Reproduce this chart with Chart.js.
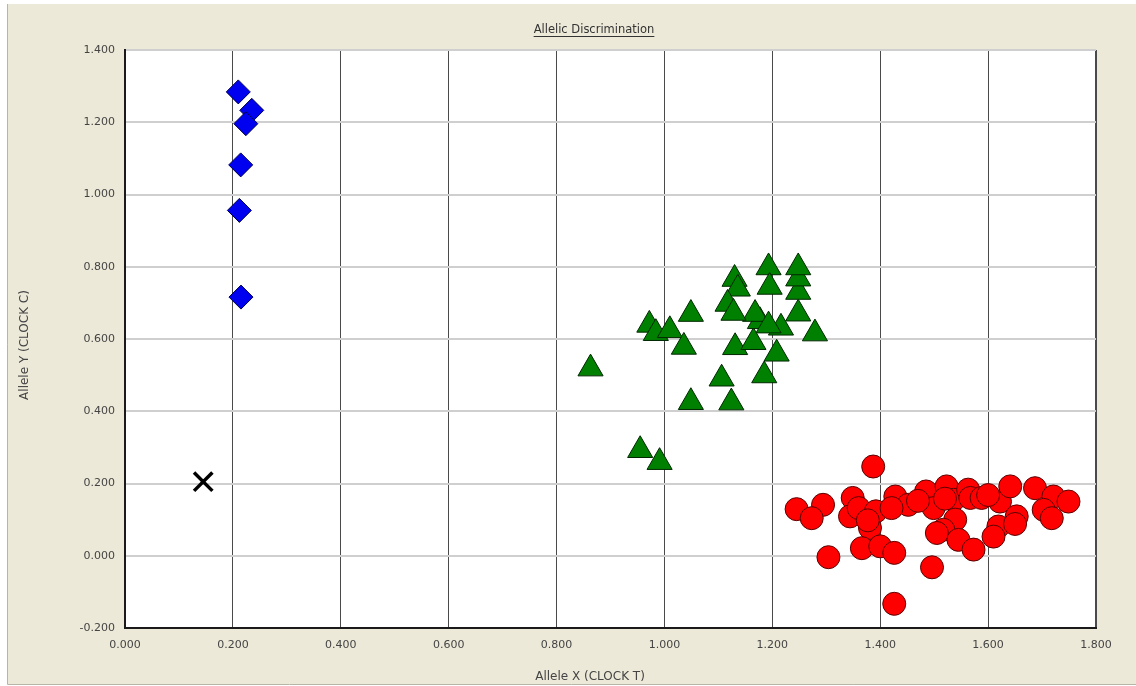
<!DOCTYPE html>
<html>
<head>
<meta charset="utf-8">
<script src="https://cdn.jsdelivr.net/npm/chart.js@4.4.1/dist/chart.umd.min.js"></script>
<style>
  html, body { margin: 0; padding: 0; background: #ffffff; }
  #wrap { width: 1136px; height: 686px; position: relative; }
</style>
</head>
<body>
<div id="wrap"><canvas id="c" width="1136" height="686"></canvas></div>
<script>
// Allelic discrimination plot: Allele X (CLOCK T) vs Allele Y (CLOCK C)

// Homozygous allele Y (CLOCK C/C)
const alleleY_x = [0.210, 0.235, 0.224, 0.2145, 0.212, 0.215];
const alleleY_y = [1.284, 1.233, 1.196, 1.082, 0.956, 0.716];

// Heterozygous (CLOCK T/C)
const hetero_x = [0.863, 0.955, 0.991, 0.972, 0.984, 1.010, 1.049, 1.036, 1.049, 1.106,
                  1.124, 1.131, 1.165, 1.185, 1.208, 1.216, 1.177, 1.168, 1.193, 1.279,
                  1.248, 1.248, 1.248, 1.248, 1.193, 1.195, 1.130, 1.136, 1.117, 1.128];
const hetero_y = [0.518, 0.292, 0.259, 0.639, 0.616, 0.624, 0.669, 0.578, 0.425, 0.490,
                  0.424, 0.577, 0.591, 0.499, 0.559, 0.631, 0.649, 0.669, 0.637, 0.615,
                  0.670, 0.730, 0.767, 0.798, 0.798, 0.744, 0.766, 0.739, 0.697, 0.672];

// Homozygous allele X (CLOCK T/T)
const alleleX_x = [1.245, 1.294, 1.273, 1.387, 1.349, 1.344, 1.360, 1.392, 1.381, 1.366,
                   1.400, 1.426, 1.304, 1.426, 1.496, 1.428, 1.452, 1.421, 1.485, 1.499,
                   1.523, 1.536, 1.563, 1.567, 1.539, 1.517, 1.505, 1.545, 1.573, 1.622,
                   1.641, 1.653, 1.619, 1.610, 1.687, 1.721, 1.749, 1.703, 1.718, 1.588,
                   1.470, 1.520, 1.600, 1.650, 1.377];
const alleleX_y = [0.129, 0.141, 0.104, 0.247, 0.160, 0.109, 0.132, 0.123, 0.077, 0.021,
                   0.026, 0.008, -0.004, -0.133, -0.032, 0.164, 0.141, 0.132, 0.178, 0.132,
                   0.192, 0.155, 0.183, 0.160, 0.100, 0.072, 0.063, 0.044, 0.017, 0.150,
                   0.192, 0.109, 0.081, 0.053, 0.187, 0.164, 0.150, 0.127, 0.104, 0.160,
                   0.152, 0.158, 0.168, 0.088, 0.098];

// No-template / undetermined
const undetermined_x = [0.145];
const undetermined_y = [0.205];

// Axis ticks
const xTicks = [0.0, 0.2, 0.4, 0.6, 0.8, 1.0, 1.2, 1.4, 1.6, 1.8];
const yTicks = [-0.2, 0.0, 0.2, 0.4, 0.6, 0.8, 1.0, 1.2, 1.4];

const chartTitle = 'Allelic Discrimination';
const xTitle = 'Allele X (CLOCK T)';
const yTitle = 'Allele Y (CLOCK C)';

const toPoints = (xs, ys) => xs.map((x, i) => ({ x: x, y: ys[i] }));

// Beige panel behind the chart, white plot area
const panelPlugin = {
  id: 'panel',
  beforeDraw(chart) {
    const { ctx, chartArea: a, width, height } = chart;
    ctx.save();
    ctx.fillStyle = '#ffffff';
    ctx.fillRect(0, 0, width, height);
    ctx.fillStyle = '#ECE9D8';
    ctx.fillRect(7, 4, width - 7, 680);
    ctx.strokeStyle = '#b8b5a8';
    ctx.lineWidth = 1;
    ctx.beginPath();
    ctx.moveTo(7.5, 4); ctx.lineTo(7.5, 684.5); ctx.lineTo(width, 684.5);
    ctx.stroke();
    ctx.fillStyle = '#ffffff';
    ctx.fillRect(a.left, a.top, a.right - a.left, a.bottom - a.top);
    ctx.restore();
  }
};

// Chart title (underlined) and axis titles
const textPlugin = {
  id: 'texts',
  afterDraw(chart) {
    const { ctx } = chart;
    ctx.save();
    ctx.fillStyle = '#333333';
    ctx.font = '11.5px "DejaVu Sans", sans-serif';
    ctx.textAlign = 'center';
    ctx.textBaseline = 'middle';
    ctx.fillText(chartTitle, 594, 30);
    const w = ctx.measureText(chartTitle).width;
    ctx.strokeStyle = '#333333';
    ctx.lineWidth = 1;
    ctx.beginPath();
    ctx.moveTo(594 - w / 2, 36.5); ctx.lineTo(594 + w / 2, 36.5);
    ctx.stroke();

    ctx.fillStyle = '#444444';
    ctx.font = '12px "DejaVu Sans", sans-serif';
    ctx.fillText(xTitle, 590, 677);
    ctx.translate(25, 345);
    ctx.rotate(-Math.PI / 2);
    ctx.fillText(yTitle, 0, 0);
    ctx.restore();
  }
};

const near = (a, b) => Math.abs(a - b) < 1e-6;

new Chart(document.getElementById('c'), {
  type: 'scatter',
  data: {
    datasets: [
      {
        label: 'Allele Y',
        data: toPoints(alleleY_x, alleleY_y),
        pointStyle: 'rectRot',
        pointRadius: 12,
        backgroundColor: '#0000F0',
        borderColor: '#00004a',
        borderWidth: 1
      },
      {
        label: 'Heterozygote',
        data: toPoints(hetero_x, hetero_y),
        pointStyle: 'triangle',
        pointRadius: 14.5,
        backgroundColor: '#008000',
        borderColor: '#002800',
        borderWidth: 1
      },
      {
        label: 'Allele X',
        data: toPoints(alleleX_x, alleleX_y),
        pointStyle: 'circle',
        pointRadius: 11.5,
        backgroundColor: '#FF0000',
        borderColor: '#5a0000',
        borderWidth: 1
      },
      {
        label: 'Undetermined',
        data: toPoints(undetermined_x, undetermined_y),
        pointStyle: 'crossRot',
        pointRadius: 13,
        backgroundColor: '#000000',
        borderColor: '#000000',
        borderWidth: 3.5
      }
    ]
  },
  options: {
    responsive: false,
    animation: false,
    events: [],
    layout: { padding: { left: 0, right: 40, top: 50, bottom: 0 } },
    plugins: {
      legend: { display: false },
      title: { display: false },
      tooltip: { enabled: false }
    },
    scales: {
      x: {
        type: 'linear',
        min: xTicks[0],
        max: xTicks[xTicks.length - 1],
        afterBuildTicks(scale) { scale.ticks = xTicks.map(v => ({ value: v })); },
        afterFit(scale) { scale.height = 58; },
        ticks: {
          padding: 11,
          color: '#444444',
          font: { family: '"DejaVu Sans", sans-serif', size: 11 },
          maxRotation: 0,
          callback: v => v.toFixed(3)
        },
        grid: {
          drawTicks: false,
          color: ctx => near(ctx.tick.value, 0) ? '#000000' : '#4a4a4a',
          lineWidth: ctx => near(ctx.tick.value, 1.8) ? 2 : 1
        },
        border: { display: true, color: '#1a1a1a', width: 2 }
      },
      y: {
        type: 'linear',
        min: yTicks[0],
        max: yTicks[yTicks.length - 1],
        afterBuildTicks(scale) { scale.ticks = yTicks.map(v => ({ value: v })); },
        afterFit(scale) { scale.width = 125; },
        ticks: {
          padding: 10,
          color: '#444444',
          font: { family: '"DejaVu Sans", sans-serif', size: 11 },
          callback: v => v.toFixed(3)
        },
        grid: {
          drawTicks: false,
          color: ctx => near(ctx.tick.value, -0.2) ? '#1a1a1a' : '#cfcfcf',
          lineWidth: 2
        },
        border: { display: true, color: '#1a1a1a', width: 2 }
      }
    }
  },
  plugins: [panelPlugin, textPlugin]
});
</script>
</body>
</html>
